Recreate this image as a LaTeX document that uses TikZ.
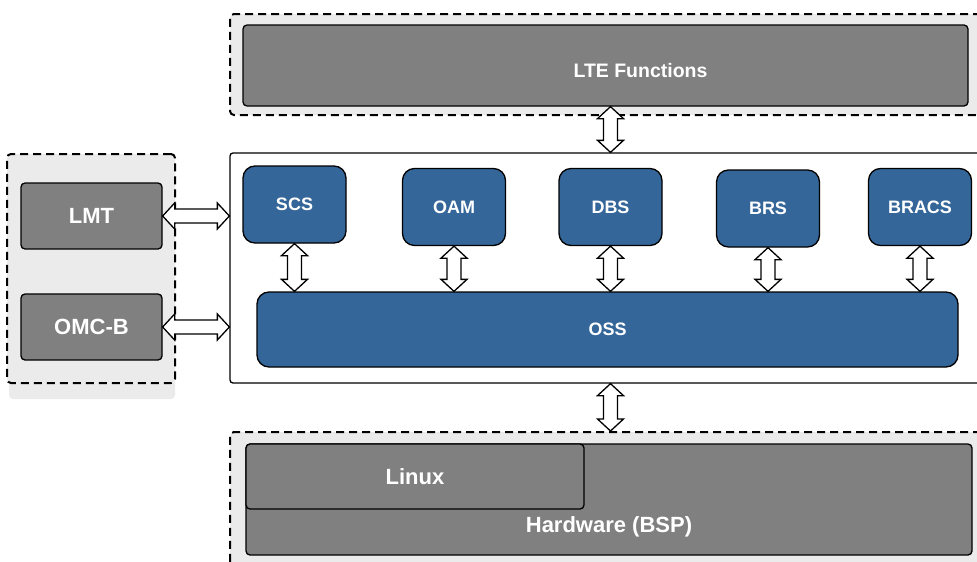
\documentclass[tikz,border=0pt]{standalone}
\usepackage{fontspec}
\setmainfont{Liberation Sans}
\usetikzlibrary{calc}

\definecolor{grisclaro}{RGB}{235,235,235}
\definecolor{gris}{RGB}{128,128,128}
\definecolor{azul}{RGB}{52,102,153}

\tikzset{
  grupo/.style={draw, line width=2pt, dash pattern=on 8pt off 5pt, fill=grisclaro, rounded corners=4pt, inner sep=0pt},
  capa/.style={draw, line width=1.3pt, fill=gris, rounded corners=4pt, inner sep=0pt, text=white, font=\bfseries\fontsize{22}{24}\selectfont},
  modulo/.style={draw, line width=1.3pt, fill=azul, rounded corners=12pt, inner sep=0pt, text=white, font=\bfseries\fontsize{18}{20}\selectfont, minimum width=103pt, minimum height=77pt},
  etiqueta/.style={text=white, inner sep=0pt, font=\bfseries\fontsize{22}{24}\selectfont},
  flecha/.style={draw, fill=white, line width=1.3pt}
}

% flecha doble hueca, vertical (de arriba hacia abajo)
\newcommand{\flechav}[2]{%
  \draw[flecha] let \p1=(#1), \p2=(#2) in
    (\x1,\y1) -- (\x1+13pt,\y1-12pt) -- (\x1+7pt,\y1-12pt) -- (\x1+7pt,\y2+12pt)
    -- (\x1+13pt,\y2+12pt) -- (\x1,\y2) -- (\x1-13pt,\y2+12pt) -- (\x1-7pt,\y2+12pt)
    -- (\x1-7pt,\y1-12pt) -- (\x1-13pt,\y1-12pt) -- cycle;}

% flecha doble hueca, horizontal (de izquierda a derecha)
\newcommand{\flechah}[2]{%
  \draw[flecha] let \p1=(#1), \p2=(#2) in
    (\x1,\y1) -- (\x1+12pt,\y1+13pt) -- (\x1+12pt,\y1+7pt) -- (\x2-12pt,\y1+7pt)
    -- (\x2-12pt,\y1+13pt) -- (\x2,\y1) -- (\x2-12pt,\y1-13pt) -- (\x2-12pt,\y1-7pt)
    -- (\x1+12pt,\y1-7pt) -- (\x1+12pt,\y1-13pt) -- cycle;}

\begin{document}
\begin{tikzpicture}[x=1pt, y=-1pt]
    \useasboundingbox (0,0) rectangle (977,562);

    % Grupos punteados
    \node[grupo, minimum width=755pt, minimum height=101pt] (funciones) at (607.5,64.5) {};
    \node[grupo, minimum width=755pt, minimum height=143pt] (base) at (607.5,503.5) {};
    \fill[grisclaro, rounded corners=4pt] (9,160) rectangle (175,399);
    \node[grupo, minimum width=168pt, minimum height=229pt] (gestion) at (91,268.5) {};

    % Capas grises
    \node[capa, minimum width=725pt, minimum height=81pt,
          label={[etiqueta, font=\bfseries\fontsize{19.5}{22}\selectfont, xshift=35pt, yshift=-5pt]center:LTE Functions}] (lte) at (605.5,65.5) {};
    \node[capa, minimum width=726pt, minimum height=111pt,
          label={[etiqueta, yshift=-27.5pt]center:Hardware (BSP)}] (hw) at (609,499.5) {};
    \node[capa, minimum width=338pt, minimum height=65pt] (linux) at (415,476.5) {Linux};
    \node[capa, minimum width=141pt, minimum height=66pt] (lmt) at (91.5,216) {LMT};
    \node[capa, minimum width=141pt, minimum height=66pt] (omcb) at (91.5,327) {OMC-B};

    % Plataforma con sus modulos
    \node[draw, line width=1.3pt, fill=white, rounded corners=3pt, minimum width=755pt, minimum height=230pt] (plataforma) at (607.5,268) {};
    \node[modulo] (scs) at (294.5,204.5) {SCS};
    \node[modulo] (oam) at (454,207) {OAM};
    \node[modulo] (dbs) at (610.5,207) {DBS};
    \node[modulo] (brs) at (768,208.5) {BRS};
    \node[modulo] (bracs) at (920,207) {BRACS};
    \node[modulo, minimum width=701pt, minimum height=75pt] (oss) at (607.5,329.5) {OSS};

    % Flechas
    \foreach \m in {scs,oam,dbs,brs,bracs}
        \flechav{\m.south}{\m.south |- oss.north};
    \flechav{dbs.north |- lte.south}{dbs.north |- plataforma.north}
    \flechav{dbs.south |- plataforma.south}{dbs.south |- base.north}
    \flechah{lmt.east}{lmt.east -| plataforma.west}
    \flechah{omcb.east}{omcb.east -| plataforma.west}
\end{tikzpicture}
\end{document}
